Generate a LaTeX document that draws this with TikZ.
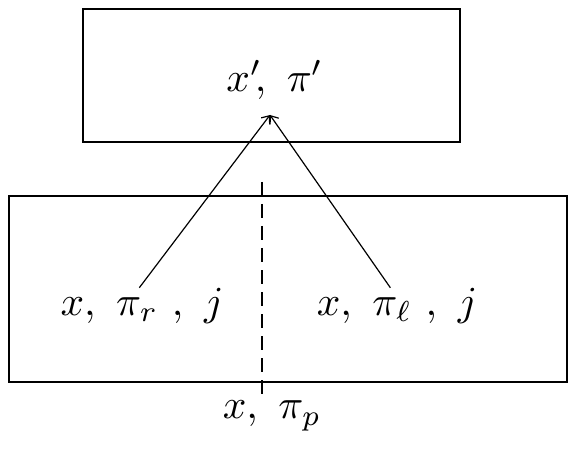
\documentclass[tikz,border=0pt]{standalone}
\usepackage{amsmath,amssymb}
\usetikzlibrary{arrows.meta,positioning}
\begin{document}
\begin{tikzpicture}[x=0.75pt, y=-0.75pt, line width=0.9pt,
    frame/.style={draw, rectangle, inner sep=0pt},
    lbl/.style={scale=3.1, inner sep=1pt}]
    \useasboundingbox (0,0) rectangle (575,449);

    % boxes
    \node[frame, minimum width=377*0.75pt, minimum height=133*0.75pt] (upper) at (271.5,75.5) {};
    \node[frame, minimum width=558*0.75pt, minimum height=186*0.75pt] (lower) at (288,289) {};

    % labels
    \node[lbl] (top) at (275,80) {$x'\!,\ \pi'$};
    \node[lbl] (left) at (142,306) {$x,\ \pi_r\ ,\ j$};
    \node[lbl] (right) at (397,306) {$x,\ \pi_\ell\ ,\ j$};
    \node[lbl] (bottom) at (272,416) {$x,\ \pi_p$};

    % dashed split
    \coordinate (cut1) at (262,182);
    \coordinate (cut2) at (262,398);
    \draw[line width=2pt, dash pattern=on 10.5pt off 6pt] (cut1) -- (cut2);

    % arrows
    \coordinate (tip) at (270,115);
    \draw[-{Straight Barb[length=5pt,width=8pt]}] ([xshift=-2pt,yshift=-4pt]left.north) -- (tip);
    \draw[-{Straight Barb[length=5pt,width=8pt]}] ([xshift=-5pt,yshift=-4pt]right.north) -- (tip);
\end{tikzpicture}
\end{document}
